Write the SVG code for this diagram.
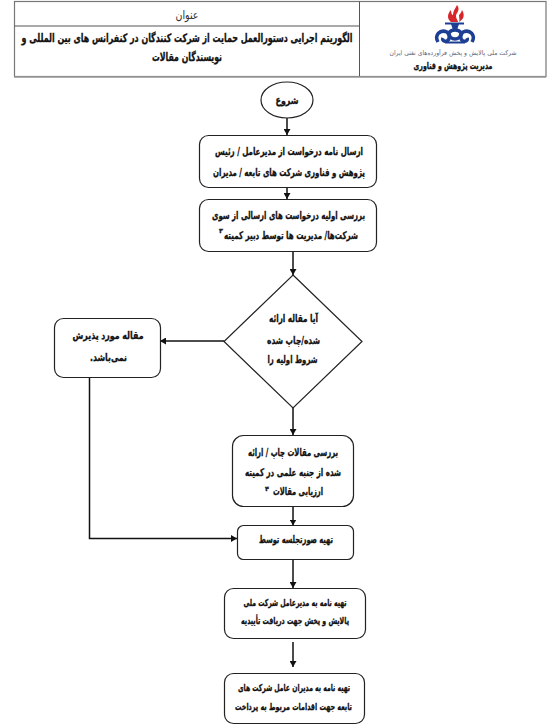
<svg xmlns="http://www.w3.org/2000/svg" width="551" height="726" viewBox="0 0 551 726">
<defs><marker id="a" markerUnits="userSpaceOnUse" markerWidth="7" markerHeight="7" refX="6" refY="3.500" orient="auto"><path d="M0 0L6 3.500L0 7Z" fill="#111"/></marker></defs>
<style>
.s{fill:#fff;stroke:#222;stroke-width:1.2}
.c{fill:none;stroke:#111;stroke-width:1.5;marker-end:url(#a)}
.t{font-family:"DejaVu Sans",sans-serif;font-weight:bold;font-size:10.500px;fill:#111;stroke:#111;stroke-width:.3;text-anchor:middle;direction:rtl}
.n{font-size:9.500px}
.u{font-size:6.500px}
</style>
<rect width="551" height="726" fill="#fff"/>
<g id="header">
<rect x="14.500" y="1.500" width="531.500" height="75" fill="#fff" stroke="#777" stroke-width="1.200"/>
<path d="M359.500 1.500V76.500M14.500 26H359.500" stroke="#555" fill="none"/>
<path d="M14 77H546" stroke="#999" stroke-width="1.500"/>
<text x="187" y="19" textLength="23" lengthAdjust="spacingAndGlyphs" style="font-family:'DejaVu Sans',sans-serif;font-size:12px;fill:#333;text-anchor:middle;direction:rtl">عنوان</text>
<text x="187" y="42" class="t" textLength="331" lengthAdjust="spacingAndGlyphs" style="font-size:11.500px">الگوریتم اجرایی دستورالعمل حمایت از شرکت کنندگان در کنفرانس های بین المللی و</text>
<text x="187" y="61" class="t" textLength="70" lengthAdjust="spacingAndGlyphs" style="font-size:11.500px">نویسندگان مقالات</text>
</g>
<g id="logo">
<path d="M457 5C461 10 456 13 456 16C456 19 458 20 458 22H451C447 19 447 14 451 10C451 13 452 15 453 15C453 11 455 9 457 5Z" fill="#d7262b"/>
<path d="M459 22C464 19 465 15 462 10C461 13 460 14 459 15C459 18 460 20 459 22Z" fill="#d7262b"/>
<path d="M445 23.500H464" stroke="#1c3f94" stroke-width="2"/>
<path d="M451 24H459L457 30H453Z" fill="#1c3f94"/>
<g fill="none" stroke="#1c3f94" stroke-width="3.500">
<path d="M438 42C434 35 440 29 447 32C450 35 450 39 447 41C444 42 442 40 443 38"/>
<path d="M472 42C476 35 470 29 463 32C460 35 460 39 463 41C466 42 468 40 467 38"/>
<path d="M449 33C451 29 459 29 461 33C461 37 458 39 455 39C452 39 449 37 449 33Z"/>
<path d="M445 42.500H465" stroke-width="2"/>
</g>
<text x="453" y="55" textLength="127" lengthAdjust="spacingAndGlyphs" style="font-family:'DejaVu Sans',sans-serif;font-size:6.500px;fill:#667;text-anchor:middle;direction:rtl">شرکت ملی پالایش و پخش فرآورده‌های نفتی ایران</text>
<text x="453" y="69" class="t" textLength="79" lengthAdjust="spacingAndGlyphs" style="font-size:9.500px">مدیریت پژوهش و فناوری</text>
</g>
<g id="connectors">
<path class="c" d="M287 118V135"/>
<path class="c" d="M287 188V199"/>
<path class="c" d="M293 251V275"/>
<path class="c" d="M224 341H160"/>
<path class="c" d="M293 408V435"/>
<path class="c" d="M293 507V525.500"/>
<path class="c" d="M89.500 378V538.500H237"/>
<path class="c" d="M293 559V588"/>
<path class="c" d="M293 642V667"/>
</g>
<g id="n1"><ellipse class="s" cx="287" cy="100" rx="26" ry="18"/><text class="t" x="287" y="104" textLength="23" lengthAdjust="spacingAndGlyphs">شروع</text></g>
<g id="n2"><rect class="s" x="199.500" y="135.500" width="177" height="52" rx="9"/><text class="t" x="289" y="155" textLength="148" lengthAdjust="spacingAndGlyphs">ارسال نامه درخواست از مدیرعامل / رئیس</text><text class="t" x="289" y="176" textLength="152" lengthAdjust="spacingAndGlyphs">پژوهش و فناوری شرکت های تابعه / مدیران</text></g>
<g id="n3"><rect class="s" x="199.500" y="199.500" width="177" height="52" rx="9"/><text class="t" x="288.500" y="219" textLength="153" lengthAdjust="spacingAndGlyphs">بررسی اولیه درخواست های ارسالی از سوی</text><text class="t" x="291" y="239" textLength="134" lengthAdjust="spacingAndGlyphs">شرکت‌ها/ مدیریت ها توسط دبیر کمیته</text><text class="t u" x="221" y="233">۳</text></g>
<g id="n4"><path class="s" d="M293 275L362 341.500L293 408L224 341.500Z"/><text class="t" x="293.500" y="322" textLength="49" lengthAdjust="spacingAndGlyphs">آیا مقاله ارائه</text><text class="t" x="293.500" y="343.500" textLength="53" lengthAdjust="spacingAndGlyphs">شده/چاپ شده</text><text class="t" x="292.500" y="363" textLength="50" lengthAdjust="spacingAndGlyphs">شروط اولیه را</text></g>
<g id="n5"><rect class="s" x="54.500" y="318.500" width="106" height="59" rx="9"/><text class="t" x="108" y="339" textLength="71" lengthAdjust="spacingAndGlyphs">مقاله مورد پذیرش</text><text class="t" x="108.500" y="361" textLength="37" lengthAdjust="spacingAndGlyphs">نمی‌باشد.</text></g>
<g id="n6"><rect class="s" x="232.500" y="435.500" width="121" height="71" rx="11"/><text class="t" x="293" y="456" textLength="90" lengthAdjust="spacingAndGlyphs">بررسی مقالات چاپ / ارائه</text><text class="t" x="293" y="476" textLength="96" lengthAdjust="spacingAndGlyphs">شده از جنبه علمی در کمیته</text><text class="t" x="298" y="495" textLength="50" lengthAdjust="spacingAndGlyphs">ارزیابی مقالات</text><text class="t u" x="267" y="491">۴</text></g>
<g id="n7"><rect class="s" x="237.500" y="525.500" width="116" height="34" rx="6"/><text class="t" x="296" y="543" textLength="74" lengthAdjust="spacingAndGlyphs">تهیه صورتجلسه توسط</text></g>
<g id="n8"><rect class="s" x="224.500" y="588.500" width="141" height="50" rx="9"/><text class="t n" x="295" y="606" textLength="103" lengthAdjust="spacingAndGlyphs">تهیه نامه به مدیرعامل شرکت ملی</text><text class="t n" x="295" y="624" textLength="108" lengthAdjust="spacingAndGlyphs">پالایش و پخش جهت دریافت تأییدیه</text></g>
<g id="n9"><rect class="s" x="224.500" y="673.500" width="140" height="50" rx="9"/><text class="t n" x="294" y="691" textLength="112" lengthAdjust="spacingAndGlyphs">تهیه نامه به مدیران عامل شرکت های</text><text class="t n" x="293.500" y="710" textLength="117" lengthAdjust="spacingAndGlyphs">تابعه جهت اقدامات مربوط به پرداخت</text></g>
</svg>
